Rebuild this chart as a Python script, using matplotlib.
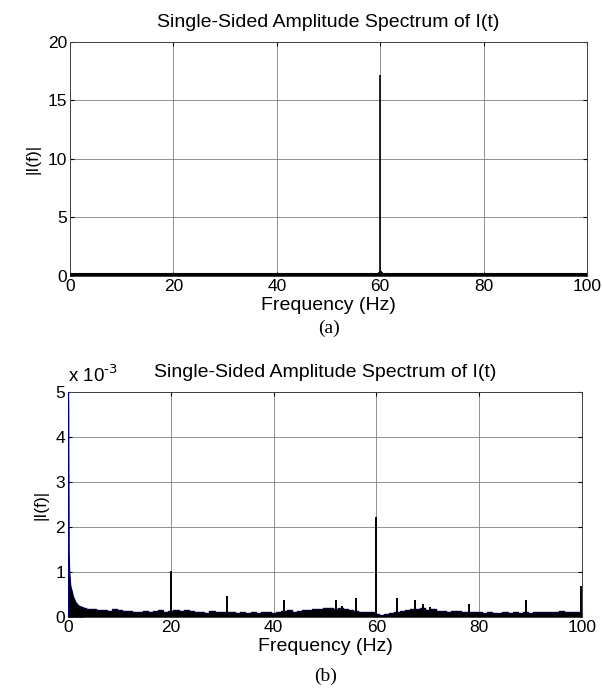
import numpy as np
import matplotlib.pyplot as plt

# (a) spectrum: one dominant line at 60 Hz plus small side bumps
top_spike_freq = [59.5, 59.7, 59.9, 60.0, 60.1, 60.3, 60.5]
top_spike_amp = [0.2, 0.35, 0.45, 17.2, 0.4, 0.3, 0.15]
top_floor_freq = [0, 100]
top_floor_amp = [0.15, 0.15]

# (b) spectrum, amplitudes in units of 1e-3
lf_freq = [0, 0.05, 0.15, 0.3, 0.5, 0.8, 1.0, 1.5, 2.0, 2.5, 3.0]
lf_amp = [5.2, 4.8, 1.45, 0.95, 0.68, 0.55, 0.45, 0.32, 0.25, 0.22, 0.20]

floor_freq = list(range(3, 101))
floor_amp = [0.20, 0.18, 0.17, 0.15, 0.16, 0.14, 0.17, 0.16, 0.13, 0.14,
             0.12, 0.11, 0.13, 0.10, 0.14, 0.15, 0.12, 0.14, 0.15, 0.13,
             0.16, 0.14, 0.10, 0.11, 0.09, 0.13, 0.10, 0.12, 0.11, 0.10,
             0.09, 0.11, 0.08, 0.10, 0.09, 0.10, 0.11, 0.09, 0.12, 0.14,
             0.15, 0.12, 0.13, 0.16, 0.15, 0.17, 0.18, 0.19, 0.20, 0.18,
             0.21, 0.17, 0.15, 0.13, 0.11, 0.12, 0.10, 0.06, 0.05, 0.07,
             0.08, 0.12, 0.14, 0.15, 0.17, 0.18, 0.19, 0.16, 0.17, 0.14,
             0.13, 0.12, 0.14, 0.13, 0.12, 0.11, 0.10, 0.12, 0.09, 0.10,
             0.08, 0.09, 0.10, 0.08, 0.11, 0.09, 0.10, 0.09, 0.10, 0.12,
             0.11, 0.10, 0.12, 0.13, 0.12, 0.11, 0.10, 0.12]

spike_freq = [20, 31, 42, 52.2, 53.2, 56, 60, 64, 67.5, 69, 70.5, 78, 89, 99.8]
spike_amp = [1.03, 0.47, 0.38, 0.37, 0.25, 0.42, 2.22, 0.42, 0.38, 0.28, 0.22, 0.29, 0.38, 0.68]

xticks = [0, 20, 40, 60, 80, 100]
top_yticks = [0, 5, 10, 15, 20]
bot_yticks = [0, 1, 2, 3, 4, 5]

plt.rcParams['font.family'] = ['Liberation Sans', 'DejaVu Sans']

fig = plt.figure(figsize=(6.02, 6.92), dpi=100)
ax1 = fig.add_axes([0.1163, 0.6012, 0.8588, 0.3382])
ax2 = fig.add_axes([0.113, 0.1084, 0.854, 0.3251])

line_col = 'black'
edge_col = '#000030'


def style(ax, yticks):
    ax.set_xlim(0, 100)
    ax.set_xticks(xticks)
    ax.set_ylim(yticks[0], yticks[-1])
    ax.set_yticks(yticks)
    ax.grid(True, color='0.5', linewidth=0.6)
    ax.set_axisbelow(True)
    ax.tick_params(direction='in', length=3, width=0.8, top=True, right=True,
                   labelsize=12.5, pad=2)
    for s in ax.spines.values():
        s.set_linewidth(0.7)
        s.set_color('0.25')
    ax.set_xlabel('Frequency (Hz)', fontsize=14, labelpad=2)
    ax.set_ylabel('|I(f)|', fontsize=12.5, labelpad=5)
    ax.set_title('Single-Sided Amplitude Spectrum of I(t)', fontsize=14, pad=11)


# (a)
ax1.fill_between(top_floor_freq, 0, top_floor_amp, color=line_col, lw=0, zorder=3)
ax1.plot(top_floor_freq, top_floor_amp, color=line_col, lw=1.5, zorder=3)
ax1.vlines(top_spike_freq, 0, top_spike_amp, color=line_col, lw=1.2, zorder=4)
style(ax1, top_yticks)
ax1.text(0.5, -0.222, '(a)', transform=ax1.transAxes, ha='center', va='center',
         fontsize=14, family='Liberation Serif')

# (b) low-frequency tail as a line, broadband floor as steps
ax2.fill_between(lf_freq, 0, lf_amp, color=line_col, lw=0, zorder=3)
ax2.plot(lf_freq, lf_amp, color=edge_col, lw=1.2, zorder=3)
ax2.fill_between(floor_freq, 0, floor_amp, step='mid', color=line_col, lw=0, zorder=3)
ax2.plot(floor_freq, floor_amp, drawstyle='steps-mid', color=edge_col, lw=1.0, zorder=3)
ax2.vlines(spike_freq, 0, spike_amp, color=line_col, lw=1.4, zorder=4)
ax2.vlines(lf_freq[:2], 0, lf_amp[:2], color='#00006a', lw=1.6, zorder=4)
style(ax2, bot_yticks)
ax2.text(0.5, -0.265, '(b)', transform=ax2.transAxes, ha='center', va='center',
         fontsize=14, family='Liberation Serif')
ax2.text(0.0, 1.025, r'x 10$^{\text{-3}}$', transform=ax2.transAxes,
         ha='left', va='bottom', fontsize=13.5)

fig.savefig('out.png', dpi=100)
